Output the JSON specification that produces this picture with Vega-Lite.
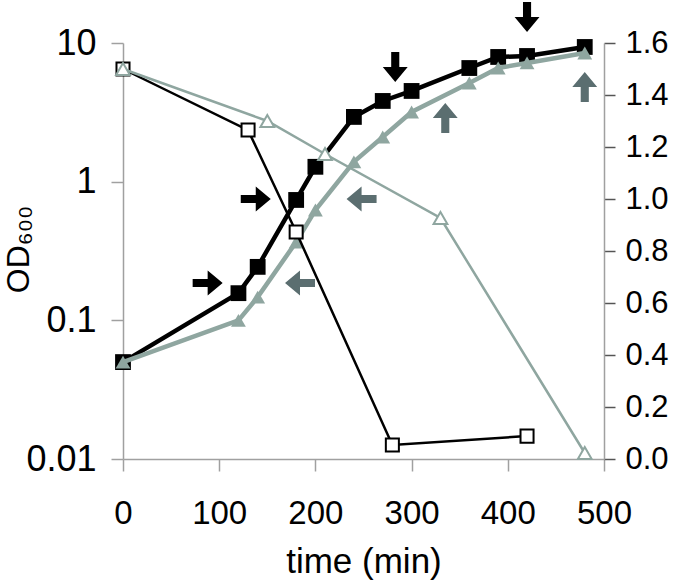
{
  "$schema": "https://vega.github.io/schema/vega-lite/v6.json",
  "autosize": "none",
  "width": 481,
  "height": 416,
  "padding": {"left": 123, "top": 43, "right": 81, "bottom": 125},
  "background": "white",
  "config": {
    "view": {"stroke": null},
    "font": "Liberation Sans",
    "axis": {
      "grid": false,
      "labelFont": "Liberation Sans",
      "labelFontSize": 36,
      "labelColor": "black",
      "titleFont": "Liberation Sans",
      "titleFontSize": 35,
      "titleFontWeight": "normal",
      "titleColor": "black",
      "domainColor": "#a0a0a0",
      "domainWidth": 1.5,
      "tickColor": "#a0a0a0",
      "tickWidth": 1.5,
      "tickSize": 12
    }
  },
  "datasets": {
    "growth": [
      {"t": 0, "od": 0.05, "strain": "black"},
      {"t": 120, "od": 0.157, "strain": "black"},
      {"t": 140, "od": 0.243, "strain": "black"},
      {"t": 180, "od": 0.738, "strain": "black"},
      {"t": 200, "od": 1.28, "strain": "black"},
      {"t": 240, "od": 2.93, "strain": "black"},
      {"t": 270, "od": 3.82, "strain": "black"},
      {"t": 300, "od": 4.51, "strain": "black"},
      {"t": 360, "od": 6.6, "strain": "black"},
      {"t": 390, "od": 7.93, "strain": "black"},
      {"t": 420, "od": 8.06, "strain": "black"},
      {"t": 480, "od": 9.36, "strain": "black"},
      {"t": 0, "od": 0.05, "strain": "grey"},
      {"t": 120, "od": 0.1, "strain": "grey"},
      {"t": 140, "od": 0.147, "strain": "grey"},
      {"t": 180, "od": 0.367, "strain": "grey"},
      {"t": 200, "od": 0.625, "strain": "grey"},
      {"t": 240, "od": 1.39, "strain": "grey"},
      {"t": 270, "od": 2.1, "strain": "grey"},
      {"t": 300, "od": 3.18, "strain": "grey"},
      {"t": 360, "od": 5.15, "strain": "grey"},
      {"t": 390, "od": 6.6, "strain": "grey"},
      {"t": 420, "od": 7.18, "strain": "grey"},
      {"t": 480, "od": 8.47, "strain": "grey"}
    ],
    "arrows": [
      {"t": 88, "od": 0.186, "dir": "right", "col": "black"},
      {"t": 138, "od": 0.75, "dir": "right", "col": "black"},
      {"t": 184, "od": 0.186, "dir": "left", "col": "grey"},
      {"t": 248, "od": 0.75, "dir": "left", "col": "grey"},
      {"t": 283, "od": 6.7, "dir": "down", "col": "black"},
      {"t": 420, "od": 15.4, "dir": "down", "col": "black"},
      {"t": 335, "od": 2.88, "dir": "up", "col": "grey"},
      {"t": 480, "od": 4.82, "dir": "up", "col": "grey"}
    ],
    "surv": [
      {"t": 0, "v": 1.5, "strain": "black"},
      {"t": 130, "v": 1.265, "strain": "black"},
      {"t": 180, "v": 0.873, "strain": "black"},
      {"t": 280, "v": 0.054, "strain": "black"},
      {"t": 420, "v": 0.088, "strain": "black"},
      {"t": 0, "v": 1.5, "strain": "grey"},
      {"t": 150, "v": 1.3, "strain": "grey"},
      {"t": 210, "v": 1.173, "strain": "grey"},
      {"t": 330, "v": 0.927, "strain": "grey"},
      {"t": 480, "v": 0.023, "strain": "grey"}
    ]
  },
  "layer": [
    {
      "layer": [
        {
          "data": {"name": "growth"},
          "transform": [{"filter": "datum.strain === 'black'"}],
          "mark": {"type": "line", "color": "black", "strokeWidth": 4.5},
          "encoding": {
            "x": {"field": "t", "type": "quantitative", "scale": {"domain": [0, 500], "nice": false},
                  "axis": {"values": [0, 100, 200, 300, 400, 500], "title": "time (min)", "labelFontSize": 33, "labelFlush": false, "labelPadding": 26, "titleY": 113, "titleBaseline": "alphabetic"}},
            "y": {"field": "od", "type": "quantitative", "scale": {"type": "log", "domain": [0.01, 10], "nice": false},
                  "axis": {"orient": "left", "values": [0.01, 0.1, 1, 10], "format": "~g", "labelPadding": 15, "title": "OD₆₀₀", "titleFontSize": 32, "titleAngle": 270, "titleAlign": "center", "titleBaseline": "alphabetic", "titleX": -95, "titleY": 206}}
          }
        },
        {
          "data": {"name": "growth"},
          "transform": [{"filter": "datum.strain === 'black'"}],
          "mark": {"type": "point", "shape": "square", "filled": true, "color": "black", "size": 250, "opacity": 1},
          "encoding": {
            "x": {"field": "t", "type": "quantitative"},
            "y": {"field": "od", "type": "quantitative"}
          }
        },
        {
          "data": {"name": "growth"},
          "transform": [{"filter": "datum.strain === 'grey'"}],
          "mark": {"type": "line", "color": "#8fa6a0", "strokeWidth": 4.5},
          "encoding": {
            "x": {"field": "t", "type": "quantitative"},
            "y": {"field": "od", "type": "quantitative"}
          }
        },
        {
          "data": {"name": "growth"},
          "transform": [{"filter": "datum.strain === 'grey'"}],
          "mark": {"type": "point", "shape": "triangle-up", "filled": true, "color": "#8fa6a0", "size": 220, "opacity": 1},
          "encoding": {
            "x": {"field": "t", "type": "quantitative"},
            "y": {"field": "od", "type": "quantitative"}
          }
        },
        {
          "data": {"name": "arrows"},
          "mark": {"type": "point", "filled": true, "size": 900, "opacity": 1, "strokeWidth": 0},
          "encoding": {
            "x": {"field": "t", "type": "quantitative"},
            "y": {"field": "od", "type": "quantitative"},
            "shape": {"field": "dir", "type": "nominal", "legend": null,
                      "scale": {"domain": ["right", "left", "down", "up"],
                                "range": ["M-1,-0.27L0,-0.27L0,-0.83L1,0L0,0.83L0,0.27L-1,0.27Z",
                                          "M1,-0.27L0,-0.27L0,-0.83L-1,0L0,0.83L0,0.27L1,0.27Z",
                                          "M-0.27,-1L-0.27,0L-0.83,0L0,1L0.83,0L0.27,0L0.27,-1Z",
                                          "M-0.27,1L-0.27,0L-0.83,0L0,-1L0.83,0L0.27,0L0.27,1Z"]}},
            "color": {"field": "col", "type": "nominal", "legend": null,
                      "scale": {"domain": ["black", "grey"], "range": ["#000000", "#5b6e70"]}}
          }
        }
      ]
    },
    {
      "layer": [
        {
          "data": {"name": "surv"},
          "transform": [{"filter": "datum.strain === 'black'"}],
          "mark": {"type": "line", "color": "black", "strokeWidth": 2.5},
          "encoding": {
            "x": {"field": "t", "type": "quantitative"},
            "y": {"field": "v", "type": "quantitative", "scale": {"domain": [0, 1.6], "nice": false},
                  "axis": {"orient": "right", "values": [0, 0.2, 0.4, 0.6, 0.8, 1, 1.2, 1.4, 1.6], "format": ".1f", "labelFontSize": 31, "labelPadding": 10, "tickSize": 11, "tickColor": "#555555", "title": null}}
          }
        },
        {
          "data": {"name": "surv"},
          "transform": [{"filter": "datum.strain === 'black'"}],
          "mark": {"type": "point", "shape": "square", "filled": true, "fill": "white", "stroke": "black", "strokeWidth": 2, "size": 170, "opacity": 1},
          "encoding": {
            "x": {"field": "t", "type": "quantitative"},
            "y": {"field": "v", "type": "quantitative"}
          }
        },
        {
          "data": {"name": "surv"},
          "transform": [{"filter": "datum.strain === 'grey'"}],
          "mark": {"type": "line", "color": "#8fa6a0", "strokeWidth": 2.5},
          "encoding": {
            "x": {"field": "t", "type": "quantitative"},
            "y": {"field": "v", "type": "quantitative"}
          }
        },
        {
          "data": {"name": "surv"},
          "transform": [{"filter": "datum.strain === 'grey'"}],
          "mark": {"type": "point", "shape": "triangle-up", "filled": true, "fill": "white", "stroke": "#8fa6a0", "strokeWidth": 2, "size": 190, "opacity": 1},
          "encoding": {
            "x": {"field": "t", "type": "quantitative"},
            "y": {"field": "v", "type": "quantitative"}
          }
        }
      ]
    }
  ],
  "resolve": {"scale": {"y": "independent"}}
}
